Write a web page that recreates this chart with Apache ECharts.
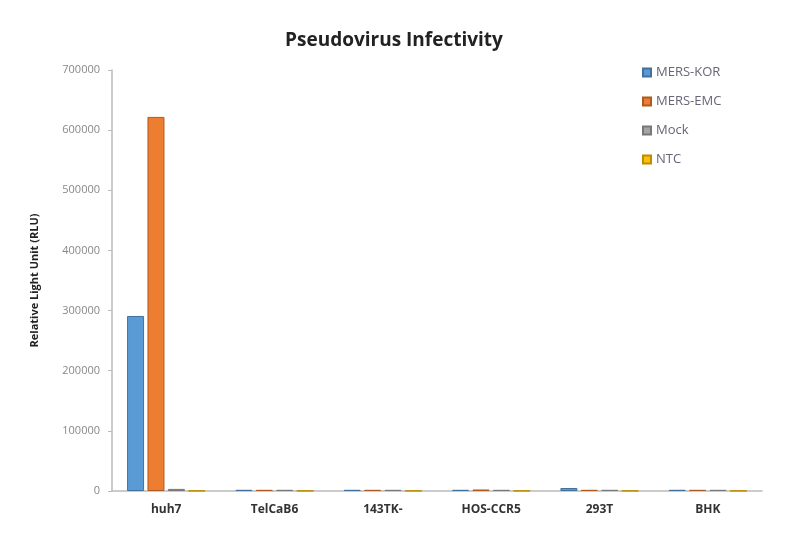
<!DOCTYPE html>
<html><head><meta charset="utf-8">
<script src="https://cdn.jsdelivr.net/npm/echarts@6/dist/echarts.min.js"></script>
<style>html,body{margin:0;padding:0;background:#fff}#c{width:788px;height:541px}</style>
</head><body><div id="c"></div>
<script>
const categories = ['huh7', 'TelCaB6', '143TK-', 'HOS-CCR5', '293T', 'BHK'];
const seriesNames = ['MERS-KOR', 'MERS-EMC', 'Mock', 'NTC'];
const mersKor = [291000, 2000, 2000, 2000, 5000, 2000];
const mersEmc = [622000, 2000, 2000, 2500, 2000, 2000];
const mock = [3500, 2000, 2000, 2000, 2000, 2000];
const ntc = [500, 500, 500, 500, 500, 500];
const yTicks = [0, 100000, 200000, 300000, 400000, 500000, 600000, 700000];
const colors = ['#5B9BD5', '#ED7D31', '#A5A5A5', '#FFC000'];
const borders = ['#41719C', '#AE5A21', '#787878', '#BC8C00'];

const chart = echarts.init(document.getElementById('c'));
const allData = [mersKor, mersEmc, mock, ntc];
chart.setOption({
  animation: false,
  backgroundColor: '#fff',
  title: {
    text: 'Pseudovirus Infectivity', left: 'center', top: 26,
    textStyle: { fontFamily: 'Open Sans', fontWeight: 'bold', fontSize: 19, color: '#222' }
  },
  legend: {
    orient: 'vertical', left: 637, top: 61, itemGap: 16, itemWidth: 8, itemHeight: 8,
    icon: 'rect',
    textStyle: { fontFamily: 'Open Sans', fontSize: 13, color: '#667' },
    data: seriesNames
  },
  grid: { left: 112, right: 26, top: 70, bottom: 50 },
  xAxis: {
    type: 'category', data: categories,
    axisLine: { lineStyle: { color: '#bbb', width: 1.5 } },
    axisTick: { show: false },
    axisLabel: { fontFamily: 'Open Sans', fontWeight: 'bold', fontSize: 12, color: '#333', margin: 13 }
  },
  yAxis: {
    type: 'value', min: 0, max: yTicks[yTicks.length - 1], interval: yTicks[1] - yTicks[0],
    name: 'Relative Light Unit (RLU)', nameLocation: 'middle', nameGap: 72, nameRotate: 90,
    nameTextStyle: { fontFamily: 'Open Sans', fontWeight: 'bold', fontSize: 11, color: '#222' },
    axisLine: { show: true, lineStyle: { color: '#bbb', width: 1.5 } },
    axisTick: { show: true, length: 4, lineStyle: { color: '#bbb' } },
    splitLine: { show: false },
    axisLabel: { fontFamily: 'Open Sans', fontSize: 11, color: '#888', margin: 12, formatter: v => String(v) }
  },
  series: seriesNames.map((n, i) => ({
    name: n, type: 'bar', data: allData[i], barWidth: 17, barGap: '20%',
    itemStyle: { color: colors[i], borderColor: borders[i], borderWidth: 1 }
  }))
});
</script></body></html>
